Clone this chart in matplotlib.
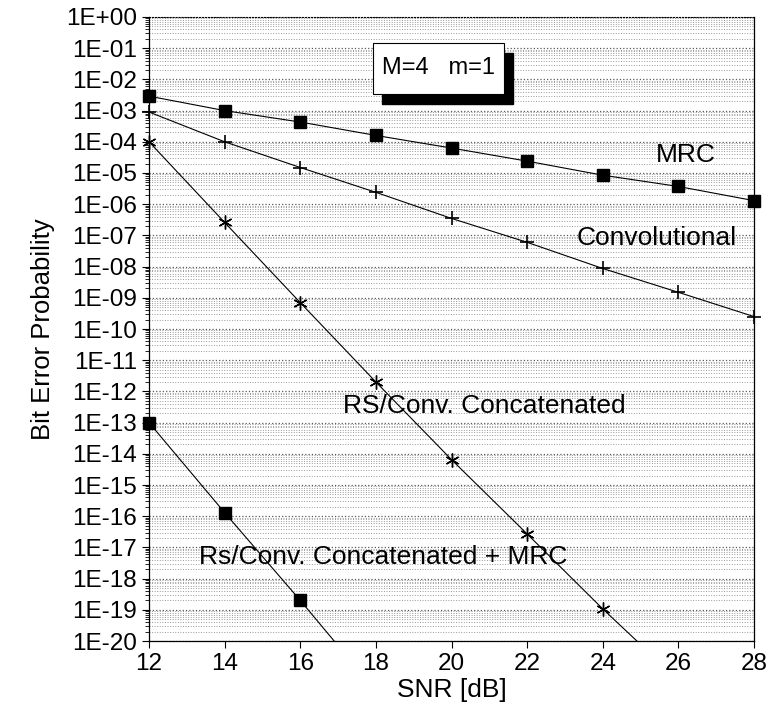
import matplotlib
matplotlib.use('Agg')
import matplotlib.pyplot as plt
from matplotlib.ticker import FixedLocator, LogLocator, NullFormatter
from matplotlib.patches import Rectangle
import numpy as np

plt.rcParams['font.family'] = ['Liberation Sans', 'DejaVu Sans']

# DATA
#===========================================================================
snr = [12, 14, 16, 18, 20, 22, 24, 26, 28]
mrc = [2.9e-3, 1.0e-3, 4.3e-4, 1.6e-4, 6.3e-5, 2.4e-5, 8.5e-6, 3.7e-6, 1.3e-6]
conv = [9.0e-4, 1.0e-4, 1.5e-5, 2.4e-6, 3.5e-7, 6.0e-8, 8.7e-9, 1.5e-9, 2.5e-10]
snr_rs = [12, 14, 16, 18, 20, 22, 24, 26]
rs_conv = [1.0e-4, 2.6e-7, 7.0e-10, 2.0e-12, 6.5e-15, 2.7e-17, 1.07e-19, 5.6e-22]
snr_rs_mrc = [12, 14, 16, 18]
rs_conv_mrc = [1.0e-13, 1.3e-16, 2.0e-19, 2.5e-22]

ytick_exp = list(range(0, -21, -1))
ytick_labels = ['1E+00'] + ['1E-%02d' % (-e) for e in ytick_exp[1:]]
xticks = [12, 14, 16, 18, 20, 22, 24, 26, 28]

# PLOT
#===========================================================================
fig = plt.figure(figsize=(7.69, 7.2), dpi=100)
ax = fig.add_axes([0.1938, 0.1097, 0.7867, 0.8667])

ax.set_yscale('log')
ax.set_xlim(12, 28)
ax.set_ylim(1e-20, 1)

lw = 0.8
ax.plot(snr, mrc, color='black', lw=lw, marker='s', ms=8, clip_on=False, zorder=5)
ax.plot(snr, conv, color='black', lw=lw, marker='+', ms=10, mew=1.2, clip_on=False, zorder=5)
ax.plot(snr_rs[:-1], rs_conv[:-1], color='black', lw=0, marker=(6, 2, 0), ms=10, mew=1.0,
        clip_on=False, zorder=5)
ax.plot(snr_rs, rs_conv, color='black', lw=lw, zorder=4)
ax.plot(snr_rs_mrc[:-1], rs_conv_mrc[:-1], color='black', lw=0, marker='s', ms=8,
        clip_on=False, zorder=5)
ax.plot(snr_rs_mrc, rs_conv_mrc, color='black', lw=lw, zorder=4)

# axes / ticks
ax.yaxis.set_major_locator(FixedLocator([10.0 ** e for e in ytick_exp]))
ax.set_yticklabels(ytick_labels)
ax.yaxis.set_minor_locator(LogLocator(base=10, subs=np.arange(2, 10), numticks=100))
ax.yaxis.set_minor_formatter(NullFormatter())
ax.set_xticks(xticks)
ax.tick_params(axis='both', which='major', labelsize=17.5, direction='out', length=5, width=0.8)
ax.tick_params(axis='y', which='minor', direction='out', length=3, width=0.6)

ax.grid(True, which='major', axis='y', color='0.35', linestyle=':', lw=0.9)
ax.grid(True, which='minor', axis='y', color='0.6', linestyle=':', lw=0.7)
ax.spines['top'].set_linestyle(':')
ax.spines['top'].set_linewidth(0.8)
for s in ['left', 'bottom', 'right']:
    ax.spines[s].set_linewidth(0.9)

ax.set_xlabel('SNR [dB]', fontsize=19, labelpad=2)
ax.set_ylabel('Bit Error Probability', fontsize=18.5, labelpad=8)

# curve labels
lab_fs = 19
ax.text(686 / 769, 1 - 155 / 720, 'MRC', transform=fig.transFigure, fontsize=lab_fs,
        ha='center', va='center')
ax.text(657 / 769, 1 - 238 / 720, 'Convolutional', transform=fig.transFigure, fontsize=lab_fs,
        ha='center', va='center')
ax.text(484 / 769, 1 - 406 / 720, 'RS/Conv. Concatenated', transform=fig.transFigure,
        fontsize=lab_fs, ha='center', va='center')
ax.text(383 / 769, 1 - 557 / 720, 'Rs/Conv. Concatenated + MRC', transform=fig.transFigure,
        fontsize=lab_fs, ha='center', va='center')

# parameter box with shadow
bx, by, bw, bh = 373 / 769, 1 - 94 / 720, 131 / 769, 51 / 720
fig.patches.append(Rectangle((bx + 9 / 769, by - 10 / 720), bw, bh, transform=fig.transFigure,
                             facecolor='black', edgecolor='black', zorder=6))
fig.patches.append(Rectangle((bx, by), bw, bh, transform=fig.transFigure,
                             facecolor='white', edgecolor='black', lw=0.8, zorder=7))
fig.text(bx + bw / 2, by + bh / 2, 'M=4   m=1', fontsize=17, ha='center', va='center', zorder=8)

fig.savefig('out.png', dpi=100)
